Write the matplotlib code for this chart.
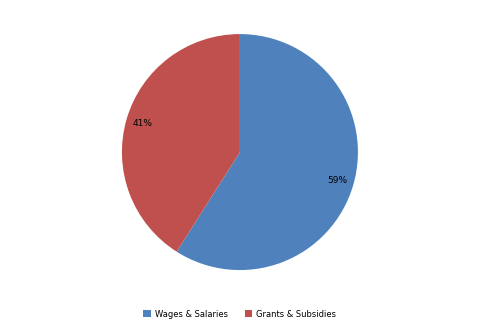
import matplotlib
matplotlib.use("Agg")
import matplotlib.pyplot as plt
from matplotlib.patches import Patch

labels = ["Wages & Salaries", "Grants & Subsidies"]
values = [59, 41]
colors = ["#4F81BD", "#C0504D"]

fig = plt.figure(figsize=(4.8, 3.33), dpi=100)
ax = fig.add_axes([0.254, 0.189, 0.4917, 0.7087])
wedges, texts, autotexts = ax.pie(values, colors=colors, startangle=90, counterclock=False,
                                  autopct=lambda p: f"{round(p):d}%", pctdistance=0.86,
                                  textprops={"fontsize": 6.5, "color": "black"})
ax.set_aspect("equal")
ax.set_xlim(-1, 1)
ax.set_ylim(-1, 1)

handles = [Patch(facecolor=c, edgecolor="none") for c in colors]
fig.legend(handles, labels, loc="center", bbox_to_anchor=(0.5, 0.057), ncol=2,
           frameon=False, fontsize=6, handlelength=0.9, handleheight=0.9,
           handletextpad=0.5, columnspacing=2.0)

fig.savefig("out.png", dpi=100)
